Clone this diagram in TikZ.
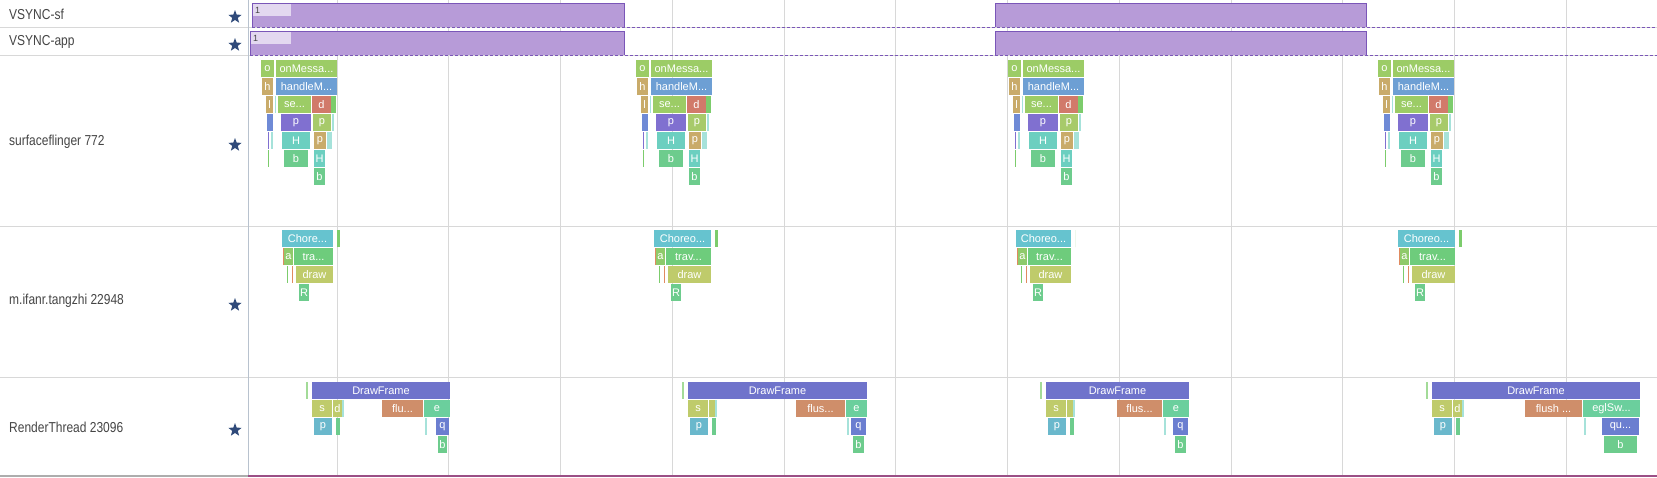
\documentclass[tikz,border=0pt]{standalone}
\usepackage{fontspec}
\usepackage{graphicx}
\setmainfont{Liberation Sans}
\usetikzlibrary{shapes.geometric}

\newcommand\trc{...}
\newcommand\tall[1]{\scalebox{1}[1.2]{#1}}

\definecolor{labelgray}{HTML}{454545}
\definecolor{starblue}{HTML}{2F4A7A}
\definecolor{gridgray}{HTML}{D8D8D8}
\definecolor{bordergray}{HTML}{B8C2CE}
\definecolor{vsfill}{HTML}{B79BD8}
\definecolor{vsline}{HTML}{7A56B8}
\definecolor{vslite}{HTML}{E3D8F0}
\definecolor{cgrna}{HTML}{9CCC66}
\definecolor{ctan}{HTML}{C9AB6A}
\definecolor{cblue}{HTML}{6D9FD4}
\definecolor{cred}{HTML}{D17A6A}
\definecolor{cgrnb}{HTML}{7CCC6C}
\definecolor{cblub}{HTML}{6F8AD6}
\definecolor{cpurp}{HTML}{8070D0}
\definecolor{cgrnc}{HTML}{A7CA6A}
\definecolor{cteal}{HTML}{6CCFC0}
\definecolor{cgrnd}{HTML}{6DCC8D}
\definecolor{cthin}{HTML}{A6E2DA}
\definecolor{cdraw}{HTML}{6F73CB}
\definecolor{colive}{HTML}{BFCB6B}
\definecolor{ccyan}{HTML}{6AB8CC}
\definecolor{cflu}{HTML}{CF8E6A}
\definecolor{cmint}{HTML}{6BCF9D}
\definecolor{cq}{HTML}{6B7ED0}
\definecolor{cchore}{HTML}{66C3CF}
\definecolor{ca}{HTML}{8FCA6A}
\definecolor{ctra}{HTML}{6ECC7C}
\definecolor{corange}{HTML}{E08A60}
\definecolor{cbottom}{HTML}{9B4F86}

\begin{document}
\begin{tikzpicture}[x=1pt,y=-1pt,
    sl/.style={anchor=north west,inner sep=0pt,outer sep=0pt,minimum height=17pt,
      text=white,font=\fontsize{11}{12}\selectfont},
    grid/.style={draw=gridgray,line width=1pt},
    fav/.style={star,star points=5,star point ratio=2.4,fill=starblue,inner sep=0pt,
      minimum size=14pt},
    track/.style={anchor=west,inner sep=0pt,text=labelgray,font=\fontsize{12}{14}\selectfont},
    vs/.style={fill=vsfill,draw=vsline,line width=1pt},
    vsdash/.style={draw=vsline,dashed,dash pattern=on 3pt off 2pt,line width=1pt},
    vsnum/.style={anchor=west,inner sep=0pt,text=labelgray,font=\fontsize{9}{10}\selectfont}]
  \useasboundingbox (0,0) rectangle (1657,477);
  \fill[white] (0,0) rectangle (1657,477);
  % grid and rows
  \foreach \k in {0,1,2,3,4,5,6,7,8,9,10,11}
    \draw[grid] (337+111.75*\k,0) -- ++(0,475);
  \foreach \r in {27,55,226,377}
    \draw[draw=gridgray,line width=1pt] (0,\r) -- (1657,\r);
  \draw[draw=bordergray,line width=1pt] (248,0) -- (248,475);
  \draw[draw=gridgray!80!black,line width=2pt] (0,476) -- (248,476);
  \draw[draw=cbottom,line width=2pt] (248,476) -- (1657,476);
  % track names
  \node[track] (vsf) at (9,14) {\tall{VSYNC-sf}};
  \node[track] (vapp) at (9,42) {\tall{VSYNC-app}};
  \node[track] (sf) at (9,142) {\tall{surfaceflinger 772}};
  \node[track] (app) at (9,301) {\tall{m.ifanr.tangzhi 22948}};
  \node[track] (rt) at (9,427) {\tall{RenderThread 23096}};
  \foreach \y [count=\i] in {17,45,145,305,430}
    \node[fav] (star\i) at (235,\y) {};
  % vsync
  \foreach \top/\bot/\st in {3/27/252,31/55/250}{
    \filldraw[vs] (\st,\bot) -- (\st,\top) -- (624,\top) -- (624,\bot);
    \filldraw[vs] (995,\bot) -- (995,\top) -- (1366,\top) -- (1366,\bot);
    \draw[vsdash] (\st,\bot) -- (1657,\bot);
    \fill[vslite] (\st+1,\top+1) rectangle (291,\top+13);
  }
  \node[vsnum] (one1) at (255,10) {1};
  \node[vsnum] (one2) at (253,38) {1};
  % surfaceflinger
  \foreach \sx [count=\g] in {261,636,1008,1378}{
    \node[sl,fill=cgrna,minimum width=13pt] (o\g) at (\sx,60) {o};
    \node[sl,fill=cgrna,minimum width=61pt] (on\g) at (\sx+15,60) {onMessa\trc};
    \node[sl,fill=ctan,minimum width=11pt] (h\g) at (\sx+1,78) {h};
    \node[sl,fill=cblue,minimum width=61pt] (hm\g) at (\sx+15,78) {handleM\trc};
    \node[sl,fill=ctan,minimum width=7pt] (l\g) at (\sx+5,96) {l};
    \fill[cthin] (\sx+14,96) rectangle ++(1,17);
    \node[sl,fill=cgrna,minimum width=33pt] (se\g) at (\sx+17,96) {se\trc};
    \node[sl,fill=cred,minimum width=19pt] (d\g) at (\sx+51,96) {d};
    \fill[cgrnb] (\sx+70,96) rectangle ++(5,17);
    \fill[cblub] (\sx+6,114) rectangle ++(6,17);
    \node[sl,fill=cpurp,minimum width=30pt] (p\g) at (\sx+20,114) {p};
    \node[sl,fill=cgrnc,minimum width=18pt] (pp\g) at (\sx+52,114) {p};
    \fill[cthin] (\sx+71,114) rectangle ++(2,17);
    \fill[cpurp] (\sx+7,132) rectangle ++(1,17);
    \fill[cthin] (\sx+10,132) rectangle ++(2,17);
    \node[sl,fill=cteal,minimum width=28pt] (H\g) at (\sx+21,132) {H};
    \node[sl,fill=ctan,minimum width=12pt] (ppp\g) at (\sx+53,132) {p};
    \fill[cthin] (\sx+66,132) rectangle ++(5,17);
    \fill[cgrnb] (\sx+7,150) rectangle ++(1,17);
    \node[sl,fill=cgrnd,minimum width=24pt] (b\g) at (\sx+23,150) {b};
    \node[sl,fill=cteal,minimum width=11pt] (HH\g) at (\sx+53,150) {H};
    \node[sl,fill=cgrnd,minimum width=11pt] (bb\g) at (\sx+53,168) {b};
  }
  % app main thread
  \foreach \cx/\w/\gw/\cl/\tl [count=\g] in {282/51/3/Chore\trc/tra\trc,
      654/57/3/Choreo\trc/trav\trc,1016/55/0/Choreo\trc/trav\trc,1398/57/3/Choreo\trc/trav\trc}{
    \node[sl,fill=cchore,minimum width=\w*1pt] (ch\g) at (\cx,230) {\cl};
    \fill[cgrnb] (\cx+\w+4,230) rectangle ++(\gw,17);
    \fill[corange] (\cx+1,248) rectangle ++(1,17);
    \node[sl,fill=ca,minimum width=9pt] (a\g) at (\cx+2,248) {a};
    \node[sl,fill=ctra,minimum width=(\w-12)*1pt] (tr\g) at (\cx+12,248) {\tl};
    \fill[cgrnb] (\cx+5,266) rectangle ++(1,17);
    \fill[corange] (\cx+10,266) rectangle ++(1,17);
    \node[sl,fill=colive,minimum width=(\w-14)*1pt] (dr\g) at (\cx+14,266) {draw};
    \node[sl,fill=cgrnd,minimum width=10pt] (R\g) at (\cx+17,284) {R};
  }
  % RenderThread
  \foreach \dx/\fa/\fb/\en/\qa/\fl/\el/\ql/\dw/\sd [count=\g] in {
      312/382/423/450/436/flu\trc/e/q/9/d,
      688/796/845/867/851/flus\trc/e/q/6/{},
      1046/1117/1162/1189/1173/flus\trc/e/q/6/{},
      1432/1525/1582/1640/1602/flush \trc/eglSw\trc/qu\trc/9/d}{
    \fill[cgrnb!70!white] (\dx-6,382) rectangle ++(2,17);
    \node[sl,fill=cdraw,minimum width=(\en-\dx)*1pt] (df\g) at (\dx,382) {DrawFrame};
    \node[sl,fill=colive,minimum width=20pt] (s\g) at (\dx,400) {s};
    \node[sl,fill=colive,minimum width=\dw*1pt] (dd\g) at (\dx+21,400) {\sd};
    \fill[cthin] (\dx+21+\dw,400) rectangle ++(1.5,17);
    \node[sl,fill=cflu,minimum width=(\fb-\fa)*1pt] (fl\g) at (\fa,400) {\fl};
    \node[sl,fill=cmint,minimum width=(\en-\fb-1)*1pt] (e\g) at (\fb+1,400) {\el};
    \node[sl,fill=ccyan,minimum width=18pt] (pr\g) at (\dx+2,418) {p};
    \fill[cgrnd] (\dx+24,418) rectangle ++(4,17);
    \fill[cthin] (\fb+2,418) rectangle ++(1.5,17);
    \node[sl,fill=cq,minimum width=(\en-\qa-1)*1pt] (q\g) at (\qa,418) {\ql};
    \node[sl,fill=cgrnd,minimum width=(\en-\qa-5)*1pt] (bq\g) at (\qa+2,436) {b};
  }
\end{tikzpicture}
\end{document}
